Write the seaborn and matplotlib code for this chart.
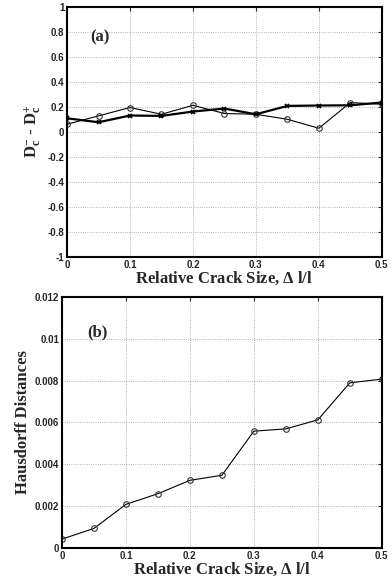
import numpy as np
import pandas as pd
import matplotlib
matplotlib.use('Agg')
import matplotlib.pyplot as plt
import seaborn as sns

# data
crack = [0.0, 0.05, 0.10, 0.15, 0.20, 0.25, 0.30, 0.35, 0.40, 0.45, 0.50]
diff_circle = [0.061, 0.128, 0.195, 0.141, 0.213, 0.147, 0.141, 0.101, 0.029, 0.235, 0.221]
diff_star = [0.109, 0.077, 0.131, 0.128, 0.163, 0.187, 0.141, 0.208, 0.211, 0.213, 0.235]
hausdorff = [0.00042, 0.00093, 0.00208, 0.00259, 0.00323, 0.00347, 0.00558, 0.00569, 0.00612, 0.00789, 0.00807]

sns.set_style('white')
plt.rcParams['font.family'] = ['Liberation Sans', 'DejaVu Sans']
plt.rcParams['mathtext.fontset'] = 'custom'
plt.rcParams['mathtext.rm'] = 'Liberation Serif:bold'
plt.rcParams['mathtext.it'] = 'Liberation Serif:bold'
plt.rcParams['mathtext.bf'] = 'Liberation Serif:bold'

serif = {'family': 'Liberation Serif', 'weight': 'bold'}
tick_fs = 7
lab_fs = 12

fig = plt.figure(figsize=(3.92, 5.81), dpi=100)
ax1 = fig.add_axes([0.171, 0.558, 0.803, 0.430])
ax2 = fig.add_axes([0.158, 0.057, 0.816, 0.432])

df = pd.DataFrame({'x': crack, 'circ': diff_circle, 'star': diff_star, 'h': hausdorff})

# panel (a)
sns.lineplot(data=df, x='x', y='circ', ax=ax1, color='black', linewidth=0.8,
             marker='o', markersize=4, markerfacecolor='none',
             markeredgecolor='#333333', markeredgewidth=0.8, zorder=3)
sns.lineplot(data=df, x='x', y='star', ax=ax1, color='black', linewidth=1.6,
             marker='x', markersize=3.5, markeredgecolor='black',
             markeredgewidth=1.2, zorder=4)
ax1.set_xlim(0, 0.5)
ax1.set_ylim(-1, 1)
ax1.set_xticks(np.arange(0, 0.51, 0.1))
ax1.set_xticklabels(['0', '0.1', '0.2', '0.3', '0.4', '0.5'])
ax1.set_yticks(np.arange(-1, 1.01, 0.2))
ax1.set_yticklabels(['-1', '-0.8', '-0.6', '-0.4', '-0.2', '0', '0.2', '0.4', '0.6', '0.8', '1'])
ax1.set_xlabel(r'Relative Crack Size, $\Delta$ $l$/$l$', fontdict=serif, fontsize=lab_fs, labelpad=0)
ax1.set_ylabel(r'$\mathrm{D}_{\mathrm{c}}^{\mathrm{-}}$ - $\mathrm{D}_{\mathrm{c}}^{\mathrm{+}}$',
               fontdict=serif, fontsize=lab_fs, labelpad=3)
ax1.text(0.037, 0.76, '(a)', fontdict=serif, fontsize=12, va='center')

# panel (b)
sns.lineplot(data=df, x='x', y='h', ax=ax2, color='black', linewidth=0.8,
             marker='o', markersize=4, markerfacecolor='none',
             markeredgecolor='#333333', markeredgewidth=0.8)
ax2.set_xlim(0, 0.5)
ax2.set_ylim(0, 0.012)
ax2.set_xticks(np.arange(0, 0.51, 0.1))
ax2.set_xticklabels(['0', '0.1', '0.2', '0.3', '0.4', '0.5'])
ax2.set_yticks(np.arange(0, 0.0121, 0.002))
ax2.set_yticklabels(['0', '0.002', '0.004', '0.006', '0.008', '0.01', '0.012'])
ax2.set_xlabel(r'Relative Crack Size, $\Delta$ $l$/$l$', fontdict=serif, fontsize=lab_fs, labelpad=0)
ax2.set_ylabel('Hausdorff Distances', fontdict=serif, fontsize=lab_fs, labelpad=3)
ax2.text(0.04, 0.0103, '(b)', fontdict=serif, fontsize=12, va='center')

for ax in (ax1, ax2):
    ax.grid(True, color='#999999', linestyle=':', linewidth=0.6)
    ax.tick_params(direction='in', length=3, width=0.8, top=True, right=True,
                   labelsize=tick_fs, pad=2)
    for lbl in ax.get_xticklabels() + ax.get_yticklabels():
        lbl.set_fontweight('bold')
    for sp in ax.spines.values():
        sp.set_color('black')
        sp.set_linewidth(1.5)
    ax.set_axisbelow(True)

fig.savefig('out.png', dpi=100)
